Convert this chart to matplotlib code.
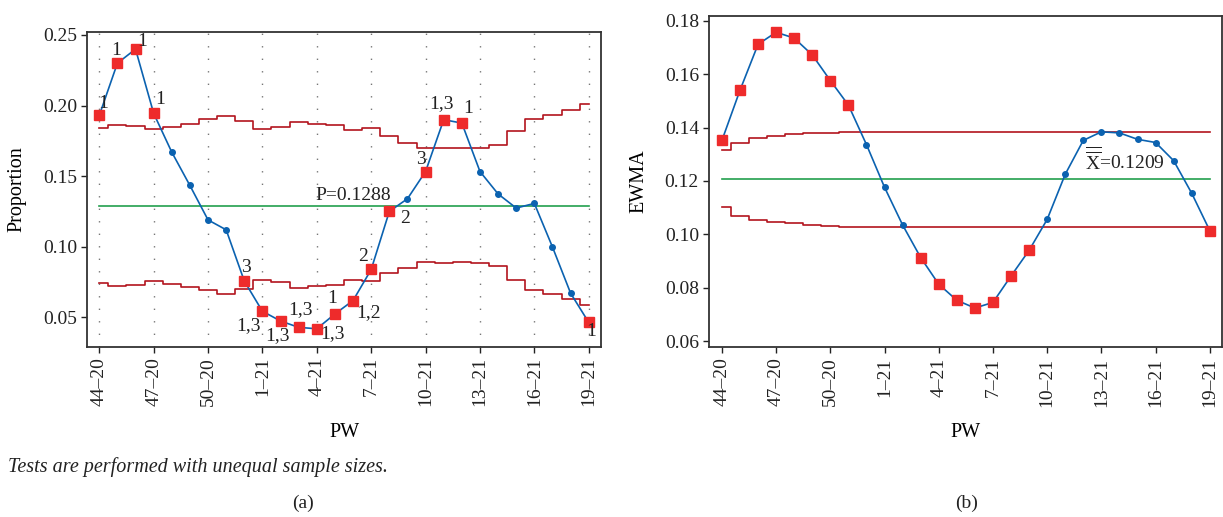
import numpy as np
import matplotlib
matplotlib.use("Agg")
import matplotlib.pyplot as plt

plt.rcParams['font.family'] = ['Liberation Serif', 'DejaVu Serif']
plt.rcParams['mathtext.fontset'] = 'custom'
plt.rcParams['mathtext.rm'] = 'Liberation Serif'

# Pandemic weeks (PW)
pw = ['44–20', '45–20', '46–20', '47–20', '48–20', '49–20', '50–20', '51–20', '52–20',
      '1–21', '2–21', '3–21', '4–21', '5–21', '6–21', '7–21', '8–21', '9–21', '10–21',
      '11–21', '12–21', '13–21', '14–21', '15–21', '16–21', '17–21', '18–21', '19–21']

# (a) P chart
proportion = [0.193, 0.230, 0.240, 0.1945, 0.167, 0.1434, 0.119, 0.112, 0.0757, 0.0543,
              0.0474, 0.0429, 0.0419, 0.0524, 0.0619, 0.0839, 0.125, 0.134, 0.1533, 0.190,
              0.1876, 0.1533, 0.1374, 0.1274, 0.1307, 0.0998, 0.0671, 0.0464]
p_ucl = [0.1843, 0.1861, 0.1854, 0.1833, 0.1847, 0.1869, 0.1902, 0.1924, 0.1893, 0.1833,
         0.185, 0.1885, 0.1869, 0.1861, 0.1825, 0.1843, 0.1785, 0.1735, 0.1699, 0.1699,
         0.170, 0.170, 0.1723, 0.1823, 0.1902, 0.1933, 0.1969, 0.2009]
p_lcl = [0.0746, 0.0722, 0.0729, 0.0754, 0.0737, 0.0715, 0.0691, 0.0663, 0.0701, 0.0761,
         0.0749, 0.0708, 0.0722, 0.0732, 0.0763, 0.0754, 0.0811, 0.0851, 0.0892, 0.0887,
         0.0892, 0.0887, 0.0863, 0.0768, 0.0691, 0.0663, 0.0627, 0.0589]
p_bar = 0.1288
# failed tests: point index -> label
p_tests = {0: '1', 1: '1', 2: '1', 3: '1', 8: '3', 9: '1,3', 10: '1,3', 11: '1,3',
           12: '1,3', 13: '1', 14: '1,2', 15: '2', 16: '2', 18: '3', 19: '1,3',
           20: '1', 27: '1'}
# label offsets in pixels
p_offsets = {0: (4, 12), 1: (-1, 13), 2: (7, 8), 3: (7, 14), 8: (2, 14), 9: (-14, -14),
             10: (-3, -15), 11: (2, 18), 12: (16, -5), 13: (-3, 15), 14: (15, -12),
             15: (-8, 13), 16: (16, -7), 18: (-5, 12), 19: (-2, 16), 20: (6, 15),
             27: (2, -9)}

# (b) EWMA chart
ewma = [0.1352, 0.154, 0.1712, 0.1757, 0.1735, 0.1672, 0.1576, 0.1484, 0.1336, 0.1176,
        0.1035, 0.0913, 0.0813, 0.0753, 0.0724, 0.0745, 0.0844, 0.094, 0.1056, 0.1225,
        0.1352, 0.1384, 0.138, 0.1356, 0.1344, 0.1276, 0.1154, 0.1014]
e_ucl = [0.1316, 0.1344, 0.136, 0.1369, 0.1376, 0.138, 0.1381] + [0.1384] * 21
e_lcl = [0.1101, 0.1069, 0.1054, 0.1046, 0.1041, 0.1036, 0.1033] + [0.1029] * 21
x_bar = 0.1209
e_out = [0, 1, 2, 3, 4, 5, 6, 7, 11, 12, 13, 14, 15, 16, 17, 27]

blue = '#0b62b0'
red = '#ee2b2b'
lim = '#b3141e'
green = '#22a04e'
fs = 14

x = np.arange(len(pw))
ticks = x[::3]

fig = plt.figure(figsize=(12.23, 5.17), dpi=100)
W, H = 1223, 517
ax1 = fig.add_axes([87.3 / W, 1 - 346.7 / H, (600.7 - 87.3) / W, (346.7 - 32.3) / H])
ax2 = fig.add_axes([709.3 / W, 1 - 347 / H, (1221.7 - 709.3) / W, (347 - 15.7) / H])

# ---- (a)
ax1.step(x, p_ucl, where='mid', color=lim, lw=1.2, zorder=2)
ax1.step(x, p_lcl, where='mid', color=lim, lw=1.2, zorder=2)
ax1.axhline(p_bar, xmin=0.66 / (27 + 1.32), xmax=(27.66) / (27 + 1.32), color=green, lw=1.2, zorder=2)
ax1.plot(x, proportion, color=blue, lw=1.2, marker='o', ms=4, zorder=3)
idx = sorted(p_tests)
ax1.plot(x[idx], np.array(proportion)[idx], ls='none', marker='s', ms=6.5,
         color=red, zorder=4)
for i, lab in p_tests.items():
    ax1.annotate(lab, (x[i], proportion[i]), xytext=p_offsets[i], textcoords='offset pixels',
                 ha='center', va='center', fontsize=fs, color='#222222', zorder=5)
ax1.annotate('P=0.1288', (11.9, p_bar), xytext=(0, 6), textcoords='offset pixels',
             ha='left', va='baseline', fontsize=fs, color='#222222')
for t in ticks:
    ax1.axvline(t, color='#777777', lw=1, ls=(0, (1, 8)), zorder=1)
ax1.set_xlim(-0.66, 27.66)
ax1.set_ylim(0.0292, 0.2519)
ax1.set_yticks([0.05, 0.10, 0.15, 0.20, 0.25])
ax1.set_ylabel('Proportion', fontsize=fs + 0.5, labelpad=12)

# ---- (b)
ax2.step(x, e_ucl, where='mid', color=lim, lw=1.2, zorder=2)
ax2.step(x, e_lcl, where='mid', color=lim, lw=1.2, zorder=2)
ax2.axhline(x_bar, xmin=0.70 / (27 + 1.36), xmax=(27.70) / (27 + 1.36), color=green, lw=1.2, zorder=2)
ax2.plot(x, ewma, color=blue, lw=1.2, marker='o', ms=4, zorder=3)
ax2.plot(x[e_out], np.array(ewma)[e_out], ls='none', marker='s', ms=6.5,
         color=red, zorder=4)
ax2.annotate(r'$\overline{\overline{\mathrm{X}}}$=0.1209', (20.1, x_bar), xytext=(0, 8),
             textcoords='offset pixels', ha='left', va='baseline', fontsize=fs,
             color='#222222')
ax2.set_xlim(-0.70, 27.66)
ax2.set_ylim(0.0578, 0.1819)
ax2.set_yticks([0.06, 0.08, 0.10, 0.12, 0.14, 0.16, 0.18])
ax2.set_ylabel('EWMA', fontsize=fs + 0.5, labelpad=12)

for ax in (ax1, ax2):
    ax.set_xticks(ticks)
    ax.set_xticklabels([pw[i] for i in ticks], rotation=90)
    ax.tick_params(labelsize=fs, colors='#222222', length=4, width=1)
    ax.yaxis.set_major_formatter(matplotlib.ticker.FormatStrFormatter('%.2f'))
    ax.set_xlabel('PW', fontsize=fs + 0.5, labelpad=12)
    for s in ax.spines.values():
        s.set_color('#333333')
        s.set_linewidth(1.3)

fig.text(8 / W, 1 - 467 / H, 'Tests are performed with unequal sample sizes.',
         style='italic', fontsize=14.5, ha='left', va='center', color='#222222')
fig.text(303 / W, 1 - 503 / H, '(a)', fontsize=14, ha='center', va='center', color='#222222')
fig.text(967 / W, 1 - 503 / H, '(b)', fontsize=14, ha='center', va='center', color='#222222')

fig.savefig('out.png', dpi=100)
